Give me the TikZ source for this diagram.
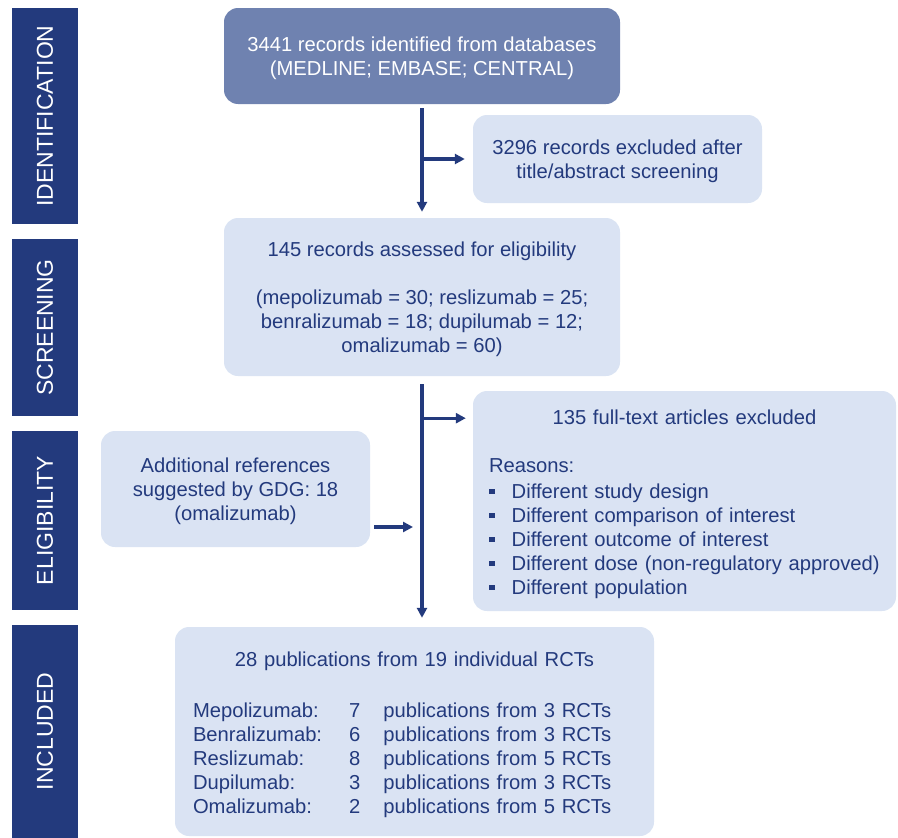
\documentclass[tikz,border=0pt]{standalone}
\usepackage{fontspec}
\setmainfont{Liberation Sans}
\usetikzlibrary{arrows.meta,calc}

\definecolor{navy}{RGB}{35,58,125}
\definecolor{paleblue}{RGB}{218,227,243}
\definecolor{midblue}{RGB}{111,130,176}

\newcommand\sqbullet{\raisebox{4.7pt}{\rule{6pt}{5.6pt}}\hspace{16.7pt}}
\newcommand\topfix[1][20pt]{\rule{0pt}{#1}}

\tikzset{
  stage/.style={fill=navy,text=white,rotate=90,minimum height=66pt,inner sep=0pt,
    font=\fontsize{23}{28}\selectfont},
  box/.style={rounded corners=14pt,fill=paleblue,text=navy,inner sep=0pt,
    font=\fontsize{20.2}{24}\selectfont},
  flow/.style={draw=navy,line width=3.2pt,-{Triangle[length=10pt,width=10pt]}}
}

\begin{document}
\begin{tikzpicture}[x=1pt,y=-1pt]
\useasboundingbox (0,0) rectangle (898,838);

% stages on the left
\node[stage,minimum width=216pt] (sid) at (45,116) {IDENTIFICATION};
\node[stage,minimum width=177pt] (sscr) at (45,327.5) {SCREENING};
\node[stage,minimum width=179pt] (selg) at (45,520.5) {ELIGIBILITY};
\node[stage,minimum width=213pt] (sinc) at (45,731.5) {INCLUDED};

% boxes
\node[box,fill=midblue,text=white,minimum width=396pt,minimum height=96pt,align=center]
  (id) at (422,56) {\topfix 3441 records identified from databases\\(MEDLINE; EMBASE; CENTRAL)};
\node[box,minimum width=289pt,minimum height=88pt,align=center]
  (excl1) at (617.5,159) {\topfix 3296 records excluded after\\title/abstract screening};
\node[box,minimum width=396pt,minimum height=158pt,align=center]
  (screen) at (422,297) {\topfix 145 records assessed for eligibility\\[24pt]
  (mepolizumab = 30; reslizumab = 25;\\benralizumab = 18; dupilumab = 12;\\omalizumab = 60)};
\node[box,minimum width=269pt,minimum height=116pt,align=center]
  (addl) at (235.5,489) {\topfix Additional references\\suggested by GDG: 18\\(omalizumab)};
\node[box,minimum width=423pt,minimum height=220pt,text width=391pt]
  (excl2) at (684.5,501) {{\centering\topfix[22pt]135 full-text articles excluded\par}\vspace{24pt}
  Reasons:\\[2pt]
  \sqbullet Different study design\\
  \sqbullet Different comparison of interest\\
  \sqbullet Different outcome of interest\\
  \sqbullet Different dose (non-regulatory approved)\\
  \sqbullet Different population};
\node[box,minimum width=479pt,minimum height=209pt,text width=443pt]
  (incl) at (414.5,731.5) {{\centering\topfix[24pt]28 publications from 19 individual RCTs\par}\vspace{27pt}
  \begin{tabular}[t]{@{}l@{\hspace{27pt}}c@{\hspace{23pt}}l@{}}
  Mepolizumab: & 7 & publications from 3 RCTs\\
  Benralizumab: & 6 & publications from 3 RCTs\\
  Reslizumab: & 8 & publications from 5 RCTs\\
  Dupilumab: & 3 & publications from 3 RCTs\\
  Omalizumab: & 2 & publications from 5 RCTs
  \end{tabular}};

% connectors
\draw[flow,shorten <=4pt,shorten >=6pt] (id.south) -- (screen.north);
\coordinate (b1) at (id.south |- excl1.west);
\draw[flow,shorten >=8pt] (b1) -- (excl1.west);

\draw[flow,shorten <=8pt,shorten >=9pt] (screen.south) -- (screen.south |- incl.north);
\coordinate (b2) at ($(screen.south)+(0,42)$);
\draw[flow,shorten >=7pt] (b2) -- (b2 -| excl2.west);
\coordinate (a2) at ($(addl.east)+(0,38)$);
\draw[flow,shorten <=4pt,shorten >=9pt] (a2) -- (a2 -| screen.south);

\end{tikzpicture}
\end{document}
